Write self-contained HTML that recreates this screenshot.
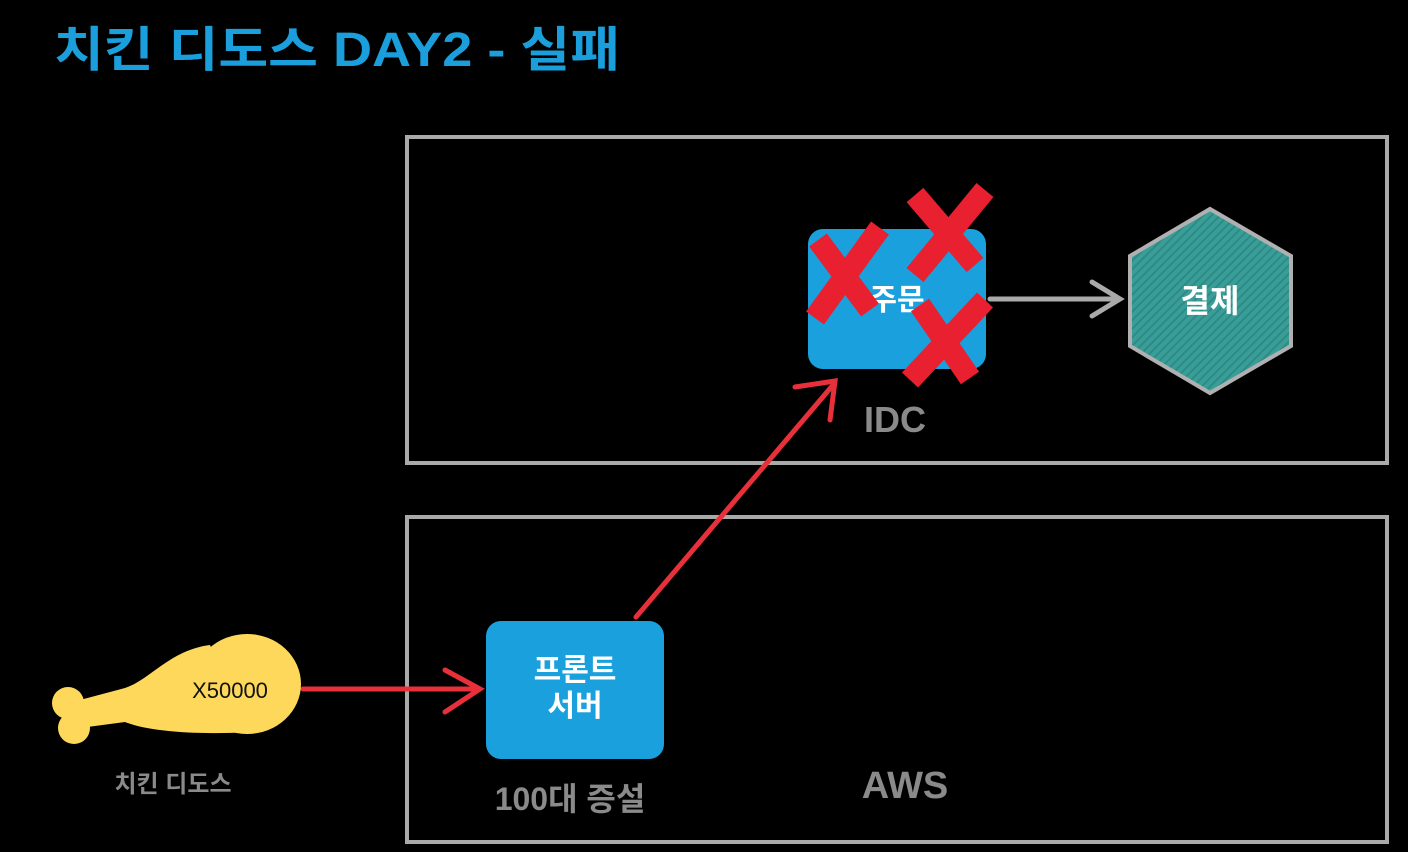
<!DOCTYPE html>
<html><head><meta charset="utf-8"><style>
html,body{margin:0;padding:0;background:#000;width:1408px;height:852px;overflow:hidden}
svg{display:block}
text{font-family:"Liberation Sans","Noto Sans CJK KR",sans-serif;font-weight:bold}
</style></head><body>
<svg width="1408" height="852" viewBox="0 0 1408 852">
<rect width="1408" height="852" fill="#000"/>
<text x="54" y="66" font-size="48" fill="#1a9fdc" textLength="566" lengthAdjust="spacingAndGlyphs">치킨 디도스 DAY2 - 실패</text>
<rect x="407" y="137" width="980" height="326" fill="none" stroke="#a9a9a9" stroke-width="4"/>
<rect x="407" y="517" width="980" height="325" fill="none" stroke="#a9a9a9" stroke-width="4"/>
<defs><pattern id="st" width="6" height="6" patternUnits="userSpaceOnUse" patternTransform="rotate(45)"><rect width="6" height="6" fill="#3a9e98"/><rect width="2" height="6" fill="#2e8a85"/></pattern></defs>
<polygon points="1130,256 1210,209 1291,256 1291,346 1210,393 1130,346" fill="url(#st)" stroke="#b0b0b0" stroke-width="4"/>
<text x="1210" y="312" font-size="32" fill="#fff" text-anchor="middle">결제</text>
<rect x="808" y="229" width="178" height="140" rx="15" fill="#1aa0dc"/>
<text x="897" y="310" font-size="30" fill="#fff" text-anchor="middle">주문</text>
<g stroke="#aaa" stroke-width="5" fill="none" stroke-linecap="round">
<line x1="990" y1="299" x2="1118" y2="299"/>
<polyline points="1092,282 1120,299 1092,316"/>
</g>
<g stroke="#e8202f" stroke-width="22" stroke-linecap="butt">
<line x1="815" y1="318" x2="880" y2="228"/><line x1="818" y1="240" x2="870" y2="310"/>
<line x1="915" y1="275" x2="985" y2="190"/><line x1="915" y1="195" x2="975" y2="265"/>
<line x1="910" y1="380" x2="985" y2="300"/><line x1="920" y1="305" x2="970" y2="378"/>
</g>
<text x="895" y="432" font-size="36" fill="#8a8a8a" text-anchor="middle">IDC</text>
<rect x="486" y="621" width="178" height="138" rx="15" fill="#1aa0dc"/>
<text x="575" y="680" font-size="30" fill="#fff" text-anchor="middle">프론트</text>
<text x="575" y="716" font-size="30" fill="#fff" text-anchor="middle">서버</text>
<text x="570" y="810" font-size="32" fill="#8a8a8a" text-anchor="middle">100대 증설</text>
<text x="905" y="798" font-size="38" fill="#8a8a8a" text-anchor="middle">AWS</text>
<g stroke="#e8303a" stroke-width="5" fill="none" stroke-linecap="round">
<line x1="303" y1="689" x2="478" y2="689"/>
<polyline points="445,670 480,689 445,712"/>
<line x1="636" y1="617" x2="833" y2="385"/>
<polyline points="795,387 835,381 830,420"/>
</g>
<g fill="#fdd85a">
<ellipse cx="247" cy="684" rx="54" ry="50"/>
<path d="M210,645 C170,650 150,680 125,688 L80,700 L80,728 L125,722 C150,732 200,735 250,732 Z"/>
<circle cx="68" cy="703" r="16"/>
<circle cx="74" cy="728" r="16"/>
<rect x="64" y="700" width="30" height="26"/>
</g>
<text x="230" y="698" font-size="22" style="font-weight:normal" fill="#111" text-anchor="middle">X50000</text>
<text x="173" y="792" font-size="24" fill="#8a8a8a" text-anchor="middle">치킨 디도스</text>
</svg>
</body></html>
